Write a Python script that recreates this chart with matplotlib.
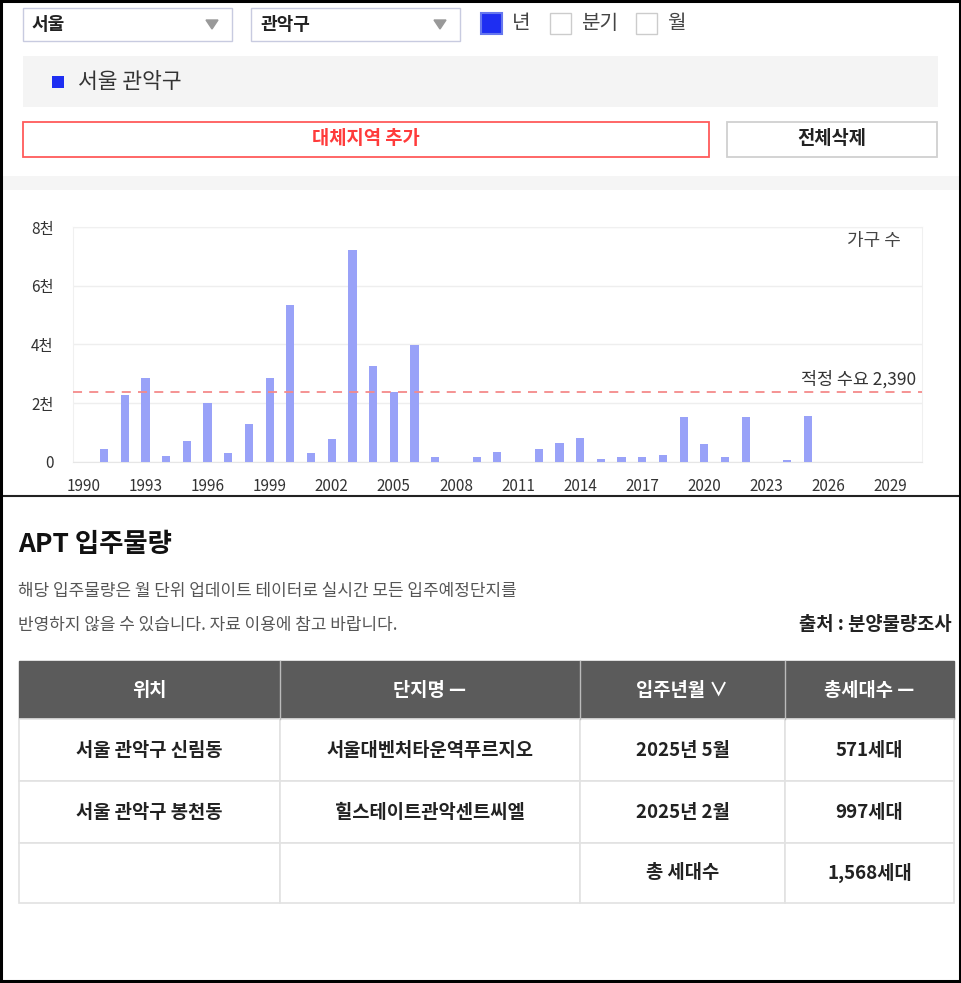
import matplotlib
matplotlib.use('Agg')
import matplotlib.pyplot as plt
from matplotlib.patches import Rectangle, Polygon

plt.rcParams['font.family'] = ['Noto Sans CJK KR', 'DejaVu Sans']

# 연도별 입주물량 (가구 수)
years = list(range(1990, 2031))
supply = [0, 430, 2280, 2840, 180, 720, 1990, 310, 1300, 2840,
          5350, 310, 760, 7220, 3270, 2390, 3990, 150, 0, 150,
          340, 0, 430, 640, 800, 100, 150, 150, 230, 1540,
          590, 150, 1540, 0, 70, 1568, 0, 0, 0, 0, 0]
demand = 2390
xtick_years = list(range(1990, 2030, 3))
ytick_vals = [0, 2000, 4000, 6000, 8000]
ytick_labels = ['0', '2천', '4천', '6천', '8천']

region = '서울'
district = '관악구'
periods = ['년', '분기', '월']

table_header = ['위치', '단지명 —', '입주년월 ∨', '총세대수 —']
table_rows = [
    ['서울 관악구 신림동', '서울대벤처타운역푸르지오', '2025년 5월', '571세대'],
    ['서울 관악구 봉천동', '힐스테이트관악센트씨엘', '2025년 2월', '997세대'],
    ['', '', '총 세대수', '1,568세대'],
]

W, H = 962, 983
fig = plt.figure(figsize=(W / 100, H / 100), dpi=100)

# 화면 전체를 픽셀 좌표로 그리는 축
ui = fig.add_axes([0, 0, 1, 1])
ui.set_xlim(0, W)
ui.set_ylim(H, 0)
ui.axis('off')

def box(x0, y0, x1, y1, fc='white', ec='#cccccc', lw=1.0, z=1):
    ui.add_patch(Rectangle((x0, y0), x1 - x0, y1 - y0, facecolor=fc,
                           edgecolor=ec, linewidth=lw, zorder=z))

# 상단 선택 영역
for (x0, x1), label in zip([(23, 232), (251, 460)], [region, district]):
    box(x0, 8, x1, 41, ec='#c8cbe0')
    ui.text(x0 + 9, 24.5, label, fontsize=13, fontweight='bold',
            color='#222222', va='center')
    tx = x1 - 20
    ui.add_patch(Polygon([(tx - 6, 20), (tx + 6, 20), (tx, 29)],
                         closed=True, color='#999999', zorder=2))

for cx, label, on in zip([481, 550, 636], periods, [True, False, False]):
    box(cx, 13, cx + 21, 34, fc='#1e2ef2' if on else 'white',
        ec='#6677ee' if on else '#cccccc', lw=1.5 if on else 1.0)
    ui.text(cx + 31, 23.5, label, fontsize=14.5, color='#444444', va='center')

box(23, 56, 938, 107, fc='#f4f4f4', ec='none')
box(52, 76, 64, 88, fc='#1e2ef2', ec='none', z=2)
ui.text(78, 81.5, region + ' ' + district, fontsize=15.5, color='#333333',
        va='center')

box(23, 122, 709, 157, ec='#ff5a5a', lw=1.3)
ui.text(366, 139, '대체지역 추가', fontsize=13.5, fontweight='bold',
        color='#ff3b3b', ha='center', va='center')
box(727, 122, 937, 157, ec='#d0d0d0', lw=1.3)
ui.text(832, 139, '전체삭제', fontsize=13.5, fontweight='bold',
        color='#222222', ha='center', va='center')

box(0, 176, W, 190, fc='#f5f5f5', ec='none')

# 차트
left, right, top, bottom = 73, 921.7, 227, 461.7
ax = fig.add_axes([left / W, 1 - bottom / H, (right - left) / W,
                   (bottom - top) / H])
ax.bar(years, supply, width=0.4, color='#99a2f8', zorder=3)
ax.axhline(demand, color='#f48a8a', linestyle=(0, (5, 4)), linewidth=1.3,
           zorder=4)
ax.set_xlim(1989.5, 2030.5)
ax.set_ylim(0, 8000)
ax.set_xticks(xtick_years)
ax.set_xticklabels([str(y) for y in xtick_years])
ax.set_yticks(ytick_vals)
ax.set_yticklabels(ytick_labels)
ax.tick_params(length=0, labelsize=11, colors='#333333')
ax.tick_params(axis='x', pad=12)
ax.tick_params(axis='y', pad=14)
ax.grid(axis='y', color='#eeeeee', linewidth=1, zorder=0)
for s in ax.spines.values():
    s.set_color('#f0f0f0')
ax.spines['bottom'].set_color('#e6e6e6')
ax.text(0.975, 0.94, '가구 수', transform=ax.transAxes, fontsize=13,
        color='#444444', ha='right', va='center')
ax.text(0.9935, demand + 100, '적정 수요 {:,}'.format(demand),
        transform=ax.get_yaxis_transform(), fontsize=12.5, color='#333333',
        ha='right', va='bottom')

# 구분선 및 외곽선
ui.plot([0, W], [496, 496], color='#222222', linewidth=1.5)
ui.add_patch(Rectangle((1, 1), W - 3, H - 3, fill=False, edgecolor='black',
                       linewidth=2.2, zorder=10))

# 입주물량 안내
ui.text(18, 545, 'APT 입주물량', fontsize=19, fontweight='bold',
        color='#111111', va='center')
ui.text(18, 591, '해당 입주물량은 월 단위 업데이트 테이터로 실시간 모든 입주예정단지를',
        fontsize=12.2, color='#555555', va='center')
ui.text(18, 625, '반영하지 않을 수 있습니다. 자료 이용에 참고 바랍니다.',
        fontsize=12.2, color='#555555', va='center')
ui.text(952, 625, '출처 : 분양물량조사', fontsize=13.5, fontweight='bold',
        color='#222222', ha='right', va='center')

# 표
col_x = [19, 280, 580, 785, 954]
row_y = [661, 719, 781, 843, 903]
box(col_x[0], row_y[0], col_x[-1], row_y[1], fc='#5b5b5b', ec='#5b5b5b')
for i, label in enumerate(table_header):
    cx = (col_x[i] + col_x[i + 1]) / 2
    ui.text(cx, (row_y[0] + row_y[1]) / 2, label, fontsize=13.5,
            fontweight='bold', color='white', ha='center', va='center')
for x in col_x[1:-1]:
    ui.plot([x, x], [row_y[0], row_y[1]], color='#bbbbbb', linewidth=1,
            zorder=3)
for r, row in enumerate(table_rows):
    y0, y1 = row_y[r + 1], row_y[r + 2]
    for i, cell in enumerate(row):
        box(col_x[i], y0, col_x[i + 1], y1, fc='white', ec='#e2e2e2', lw=1.2)
        ui.text((col_x[i] + col_x[i + 1]) / 2, (y0 + y1) / 2, cell,
                fontsize=13.5, fontweight='bold', color='#222222',
                ha='center', va='center', zorder=3)

fig.savefig('out.png', dpi=100)
